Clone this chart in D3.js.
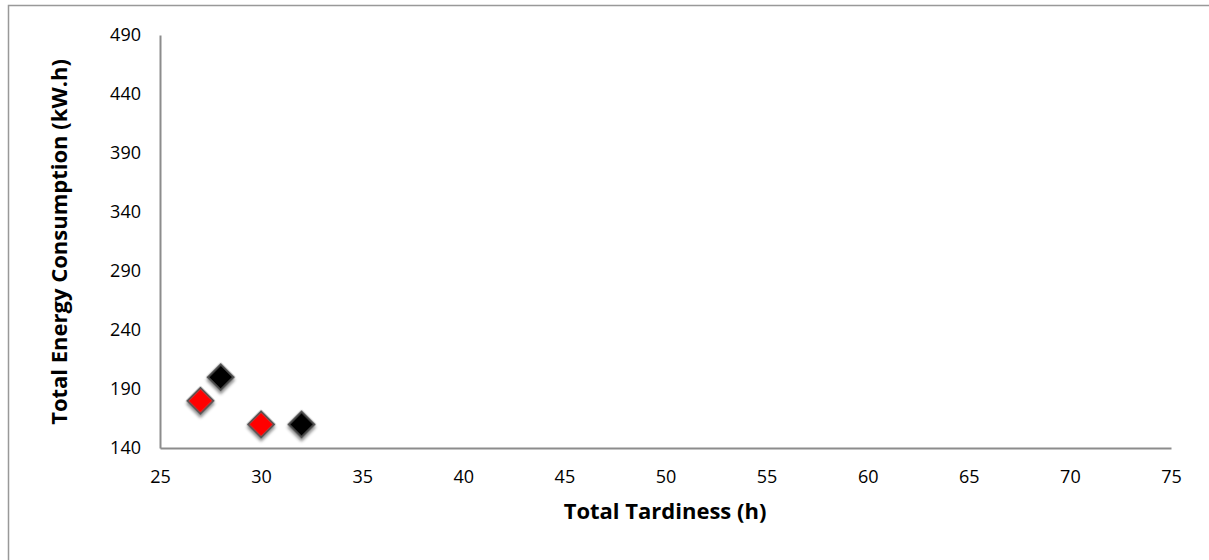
<!DOCTYPE html>
<html><head><meta charset="utf-8">
<script src="https://cdn.jsdelivr.net/npm/d3@7"></script>
<style>body{margin:0;background:#fff}svg{display:block}</style>
</head><body>
<svg id="c" width="1209" height="560"></svg>
<script>
const xTicks = [25,30,35,40,45,50,55,60,65,70,75];
const yTicks = [140,190,240,290,340,390,440,490];
const redX = [27, 30];
const redY = [180, 160];
const blackX = [28, 32];
const blackY = [200, 160];

const svg = d3.select("#c");
const font = "'Open Sans', sans-serif";
const x = d3.scaleLinear().domain([25,75]).range([160,1171]);
const y = d3.scaleLinear().domain([140,490]).range([448,35]);

const defs = svg.append("defs");
const f = defs.append("filter").attr("id","sh").attr("x","-50%").attr("y","-50%").attr("width","200%").attr("height","200%");
f.append("feDropShadow").attr("dx",2).attr("dy",2).attr("stdDeviation",1.8).attr("flood-color","#000").attr("flood-opacity",0.45);

svg.append("rect").attr("x",8.5).attr("y",5.5).attr("width",1230).attr("height",600)
  .attr("fill","none").attr("stroke","#999").attr("stroke-width",1.5);

const xa = svg.append("g").attr("transform","translate(0,448)")
  .call(d3.axisBottom(x).tickValues(xTicks).tickSize(0).tickPadding(22).tickFormat(d3.format("d")));
xa.select(".domain").attr("stroke","#8c8c8c").attr("stroke-width",2);
xa.attr("font-family",font).attr("font-size",18);
xa.selectAll("text").attr("fill","#000");

const ya = svg.append("g").attr("transform","translate(160,0)")
  .call(d3.axisLeft(y).tickValues(yTicks).tickSize(0).tickPadding(19).tickFormat(d3.format("d")));
ya.select(".domain").attr("stroke","#8c8c8c").attr("stroke-width",2);
ya.attr("font-family",font).attr("font-size",18);
ya.selectAll("text").attr("fill","#000");

const diamond = d3.symbol().type(d3.symbolSquare).size(340);
function plot(xs, ys, col){
  svg.append("g").selectAll("path").data(xs.map((d,i)=>[d,ys[i]])).join("path")
    .attr("d", diamond)
    .attr("transform", d=>`translate(${x(d[0])},${y(d[1])}) rotate(45)`)
    .attr("fill", col).attr("stroke","#555").attr("stroke-width",2)
    .attr("filter","url(#sh)");
}
plot(blackX, blackY, "#000");
plot(redX, redY, "#ff0000");

svg.append("text").attr("x",665).attr("y",519).attr("text-anchor","middle")
  .attr("font-family",font).attr("font-weight","bold").attr("font-size",22).text("Total Tardiness (h)");
svg.append("text").attr("transform","translate(67,242) rotate(-90)").attr("text-anchor","middle")
  .attr("font-family",font).attr("font-weight","bold").attr("font-size",22).text("Total Energy Consumption (kW.h)");
</script>
</body></html>
